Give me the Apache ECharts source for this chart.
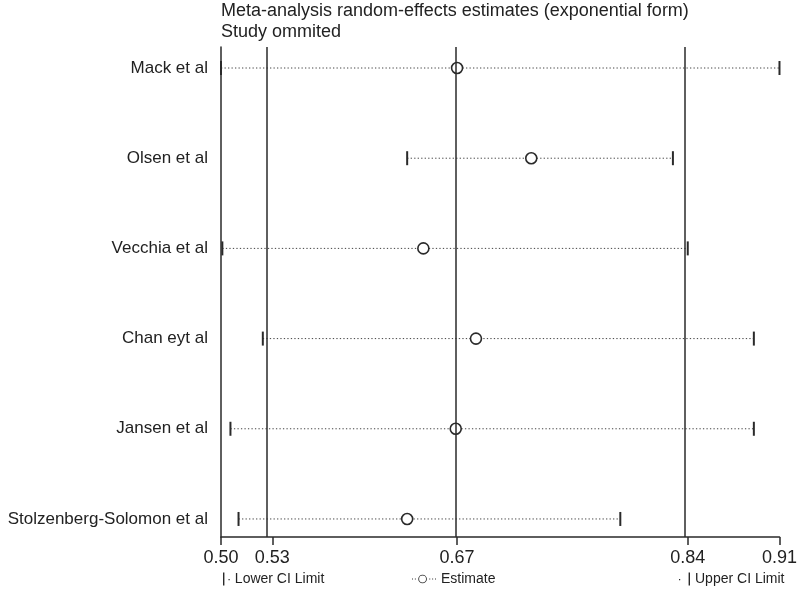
<!DOCTYPE html>
<html>
<head>
<meta charset="utf-8">
<script src="https://cdn.jsdelivr.net/npm/echarts@6/dist/echarts.min.js"></script>
<style>html,body{margin:0;padding:0;background:#fff}#c{width:800px;height:597px}</style>
</head>
<body>
<div id="c"></div>
<script>
var studies = ['Mack et al', 'Olsen et al', 'Vecchia et al', 'Chan eyt al', 'Jansen et al', 'Stolzenberg-Solomon et al'];
var estimates = [0.671, 0.726, 0.646, 0.685, 0.670, 0.634];
var lowerCI = [0.496, 0.634, 0.497, 0.527, 0.503, 0.509];
var upperCI = [0.910, 0.831, 0.842, 0.891, 0.891, 0.792];
var tickValues = [0.496, 0.534, 0.671, 0.842, 0.910];
var tickLabels = ['0.50', '0.53', '0.67', '0.84', '0.91'];
var refLines = [0.534, 0.671, 0.842];

var rowIdx = studies.map(function (s, i) { return i; });
var FONT = '"Liberation Sans", Arial, sans-serif';
var DARK = '#2a2a2a';

var lineData = rowIdx.map(function (i) { return [lowerCI[i], upperCI[i], i]; });
var lowData = rowIdx.map(function (i) { return [lowerCI[i], i]; });
var upData = rowIdx.map(function (i) { return [upperCI[i], i]; });
var estData = rowIdx.map(function (i) { return [estimates[i], i]; });

function tickRender(params, api) {
  var p = api.coord([api.value(0), api.value(1)]);
  return { type: 'line', shape: { x1: p[0], y1: p[1] - 7, x2: p[0], y2: p[1] + 7 },
    style: { stroke: DARK, lineWidth: 2 } };
}

var legendText = { fontFamily: FONT, fontSize: 14, color: '#222' };
var legendItem = { color: DARK, borderWidth: 0 };

var chart = echarts.init(document.getElementById('c'), null, { renderer: 'canvas' });
chart.setOption({
  animation: false,
  backgroundColor: '#fff',
  title: {
    text: 'Meta-analysis random-effects estimates (exponential form)\nStudy ommited',
    left: 221, top: 1, padding: 0,
    textStyle: { fontFamily: FONT, fontSize: 18, fontWeight: 'normal', color: '#222', lineHeight: 21 }
  },
  legend: [
    { data: ['Lower CI Limit'], left: 218, top: 567, itemWidth: 7, itemHeight: 13, itemGap: 3,
      icon: 'path://M0,0h1.4v13h-1.4z M5.5,6.5h1.2v1.2h-1.2z',
      itemStyle: legendItem, textStyle: legendText },
    { data: ['Estimate'], left: 407, top: 567, itemWidth: 24, itemHeight: 11, itemGap: 3,
      icon: 'path://M0,5h1v1h-1z M3,5h1v1h-1z M11,1A4.5,4.5 0 1,1 11,10A4.5,4.5 0 1,1 11,1Z M11,1.9A3.6,3.6 0 1,0 11,9.1A3.6,3.6 0 1,0 11,1.9Z M18,5h1v1h-1z M21,5h1v1h-1z M24,5h1v1h-1z',
      itemStyle: legendItem, textStyle: legendText },
    { data: ['Upper CI Limit'], left: 674, top: 567, itemWidth: 11, itemHeight: 13, itemGap: 5,
      icon: 'path://M0,6.5h1.2v1.2h-1.2z M9.6,0h1.4v13h-1.4z',
      itemStyle: legendItem, textStyle: legendText }
  ],
  grid: { left: 221, right: 20, top: 47, bottom: 60 },
  xAxis: {
    type: 'value', min: tickValues[0], max: tickValues[tickValues.length - 1],
    axisLine: { show: true, onZero: false, lineStyle: { color: DARK, width: 1.5 } },
    axisTick: { show: true, customValues: tickValues, length: 8, lineStyle: { color: DARK, width: 1.5 } },
    axisLabel: { customValues: tickValues, margin: 12, fontFamily: FONT, fontSize: 18, color: '#222',
      formatter: function (v) { var k = tickValues.indexOf(v); return k >= 0 ? tickLabels[k] : ''; } },
    splitLine: { show: false }
  },
  yAxis: {
    type: 'value', inverse: true, min: -0.233, max: 5.2,
    axisLine: { show: true, onZero: false, lineStyle: { color: DARK, width: 1.5 } },
    axisTick: { show: false },
    splitLine: { show: false },
    axisLabel: { customValues: rowIdx, margin: 13, fontFamily: FONT, fontSize: 17, color: '#222',
      formatter: function (v) { return studies[v] || ''; } }
  },
  series: [
    {
      type: 'custom', name: 'CI', data: lineData, z: 1,
      encode: { x: [0, 1], y: 2 },
      renderItem: function (params, api) {
        var a = api.coord([api.value(0), api.value(2)]);
        var b = api.coord([api.value(1), api.value(2)]);
        return { type: 'line', shape: { x1: a[0], y1: a[1], x2: b[0], y2: b[1] },
          style: { stroke: '#444', lineWidth: 1, lineDash: [1.3, 2.2] } };
      },
      markLine: {
        silent: true, symbol: 'none', label: { show: false },
        lineStyle: { type: 'solid', color: DARK, width: 1.5 },
        data: refLines.map(function (v) { return { xAxis: v }; })
      }
    },
    { type: 'custom', name: 'Lower CI Limit', data: lowData, z: 3, itemStyle: { color: DARK },
      encode: { x: 0, y: 1 }, renderItem: tickRender },
    { type: 'custom', name: 'Upper CI Limit', data: upData, z: 3, itemStyle: { color: DARK },
      encode: { x: 0, y: 1 }, renderItem: tickRender },
    { type: 'scatter', name: 'Estimate', data: estData, z: 4, symbol: 'circle', symbolSize: 11,
      itemStyle: { color: '#fff', borderColor: DARK, borderWidth: 1.6, opacity: 1 } }
  ]
});
</script>
</body>
</html>
